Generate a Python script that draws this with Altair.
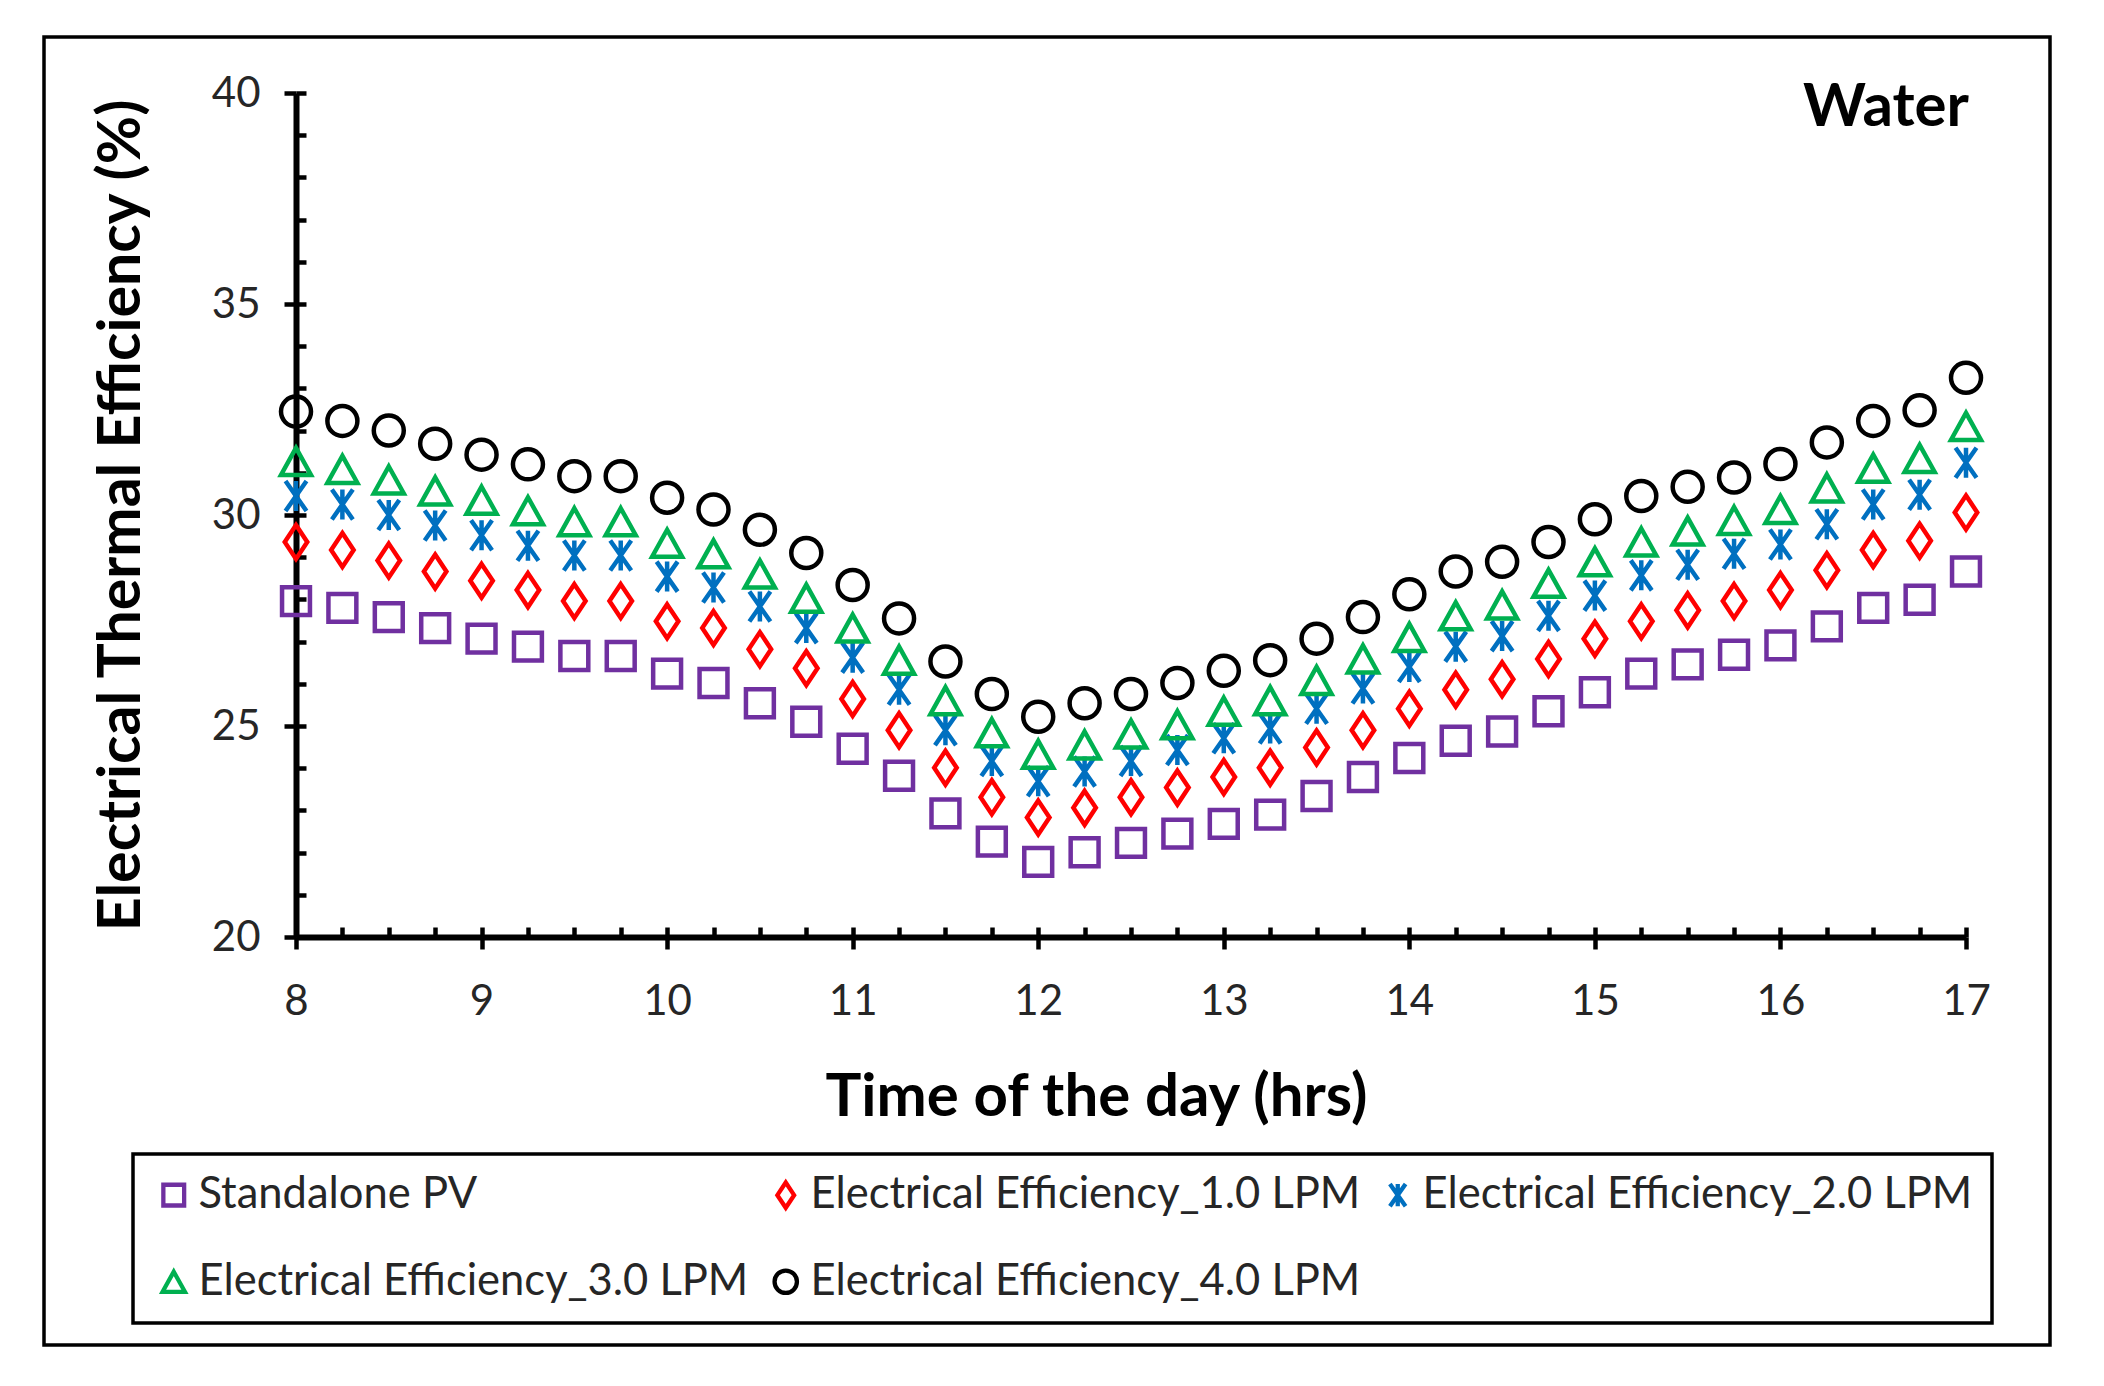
import altair as alt
import pandas as pd

# time of day (hrs)
hours = [8.0, 8.25, 8.5, 8.75, 9.0, 9.25, 9.5, 9.75, 10.0, 10.25, 10.5, 10.75,
         11.0, 11.25, 11.5, 11.75, 12.0, 12.25, 12.5, 12.75, 13.0, 13.25, 13.5, 13.75,
         14.0, 14.25, 14.5, 14.75, 15.0, 15.25, 15.5, 15.75, 16.0, 16.25, 16.5, 16.75, 17.0]

standalone_pv = [27.96, 27.80, 27.58, 27.32, 27.07, 26.88, 26.66, 26.66, 26.24, 26.02, 25.54, 25.10,
                 24.46, 23.82, 22.93, 22.26, 21.78, 22.01, 22.23, 22.45, 22.68, 22.90, 23.34, 23.79,
                 24.24, 24.65, 24.87, 25.35, 25.80, 26.24, 26.46, 26.69, 26.91, 27.36, 27.80, 27.99, 28.66]
eff_1_lpm = [29.36, 29.17, 28.92, 28.66, 28.44, 28.22, 27.96, 27.96, 27.48, 27.32, 26.82, 26.37,
             25.64, 24.90, 24.01, 23.31, 22.83, 23.06, 23.31, 23.54, 23.79, 24.01, 24.49, 24.90,
             25.41, 25.86, 26.11, 26.59, 27.07, 27.48, 27.74, 27.96, 28.22, 28.69, 29.17, 29.39, 30.06]
eff_2_lpm = [30.45, 30.25, 30.00, 29.75, 29.52, 29.27, 29.04, 29.04, 28.54, 28.28, 27.83, 27.32,
             26.62, 25.86, 24.90, 24.17, 23.69, 23.92, 24.17, 24.43, 24.71, 24.94, 25.41, 25.89,
             26.40, 26.88, 27.13, 27.61, 28.09, 28.57, 28.82, 29.08, 29.30, 29.78, 30.25, 30.48, 31.24]
eff_3_lpm = [31.27, 31.08, 30.83, 30.57, 30.35, 30.10, 29.84, 29.84, 29.33, 29.08, 28.60, 28.03,
             27.32, 26.56, 25.60, 24.84, 24.33, 24.55, 24.81, 25.03, 25.35, 25.60, 26.08, 26.59,
             27.10, 27.61, 27.87, 28.38, 28.89, 29.36, 29.62, 29.87, 30.13, 30.64, 31.11, 31.34, 32.10]
eff_4_lpm = [32.45, 32.23, 32.00, 31.69, 31.43, 31.20, 30.92, 30.92, 30.41, 30.13, 29.65, 29.10,
             28.34, 27.55, 26.53, 25.76, 25.22, 25.54, 25.76, 26.02, 26.31, 26.56, 27.07, 27.58,
             28.12, 28.66, 28.89, 29.36, 29.90, 30.45, 30.67, 30.89, 31.21, 31.72, 32.23, 32.48, 33.25]

series_names = [
    "Standalone PV",
    "Electrical Efficiency_1.0 LPM",
    "Electrical Efficiency_2.0 LPM",
    "Electrical Efficiency_3.0 LPM",
    "Electrical Efficiency_4.0 LPM",
]
series_values = [standalone_pv, eff_1_lpm, eff_2_lpm, eff_3_lpm, eff_4_lpm]
series_colors = ["#7030A0", "#FF0000", "#0070C0", "#00B050", "#000000"]
series_shapes = [
    "M-0.93,-0.93L0.93,-0.93L0.93,0.93L-0.93,0.93Z",
    "M0,-1.13L0.75,0L0,1.13L-0.75,0Z",
    "M-0.7,-1L0.7,1M0.7,-1L-0.7,1M0,-1L0,1",
    "M0,-0.9L1,0.9L-1,0.9Z",
    "circle",
]

x_labels = [8, 9, 10, 11, 12, 13, 14, 15, 16, 17]
y_labels = [20, 25, 30, 35, 40]

PLOT_W = 1670
PLOT_H = 844
FONT = "Lato"
TEXT_COLOR = "#262626"

df = pd.concat(
    [pd.DataFrame({"hour": hours, "efficiency": values, "series": name})
     for name, values in zip(series_names, series_values)],
    ignore_index=True,
)

x_scale = alt.Scale(domain=[8, 17], nice=False, zero=False)
y_scale = alt.Scale(domain=[20, 40], nice=False, zero=False)

points = (
    alt.Chart(df)
    .mark_point(filled=False, size=900, strokeWidth=4.5, opacity=1)
    .encode(
        x=alt.X(
            "hour:Q",
            scale=x_scale,
            axis=alt.Axis(
                values=x_labels, format="d", tickSize=12, tickWidth=4.5, tickColor="black",
                domainColor="black", domainWidth=6, grid=False,
                labelFontSize=42, labelColor=TEXT_COLOR, labelPadding=32, labelFlush=False,
                title="Time of the day (hrs)", titleFontSize=60, titleFontWeight="bold",
                titleColor="black", titleX=800, titleY=160, titleBaseline="middle",
            ),
        ),
        y=alt.Y(
            "efficiency:Q",
            scale=y_scale,
            axis=alt.Axis(
                values=y_labels, tickSize=12, tickWidth=4.5, tickColor="black",
                domainColor="black", domainWidth=6, grid=False,
                labelFontSize=42, labelColor=TEXT_COLOR, labelPadding=24, labelFlush=False,
                title="Electrical Thermal Efficiency (%)", titleFontSize=59, titleFontWeight="bold",
                titleColor="black", titleX=-175, titleY=PLOT_H / 2, titleAngle=-90,
                titleAlign="center", titleBaseline="middle",
            ),
        ),
        color=alt.Color(
            "series:N",
            scale=alt.Scale(domain=series_names, range=series_colors),
            legend=alt.Legend(
                orient="none", legendX=-163, legendY=1061, columns=3, direction="horizontal",
                title=None, labelFontSize=43.5, labelColor=TEXT_COLOR, labelLimit=1200,
                labelOffset=3, symbolSize=500, symbolStrokeWidth=4.3, padding=19,
                rowPadding=42, columnPadding=15, strokeColor="black",
            ),
        ),
        shape=alt.Shape(
            "series:N",
            scale=alt.Scale(domain=series_names, range=series_shapes),
        ),
    )
)

# inner (minor) tick marks, drawn by a second pair of axes pointing into the plot
inner_ticks = (
    alt.Chart(df)
    .mark_point(opacity=0)
    .encode(
        x=alt.X(
            "hour:Q",
            scale=x_scale,
            axis=alt.Axis(
                orient="top", offset=-PLOT_H, values=[8 + i / 4 for i in range(37)],
                tickSize=10, tickWidth=4.5, tickColor="black", labels=False,
                domain=False, grid=False, title=None,
            ),
        ),
        y=alt.Y(
            "efficiency:Q",
            scale=y_scale,
            axis=alt.Axis(
                orient="right", offset=-PLOT_W, values=list(range(20, 41)),
                tickSize=10, tickWidth=4.5, tickColor="black", labels=False,
                domain=False, grid=False, title=None,
            ),
        ),
    )
)

frame = (
    alt.Chart(pd.DataFrame({"k": [0]}))
    .mark_rect(fill="transparent", stroke="black", strokeWidth=3.5)
    .encode(x=alt.value(-252), x2=alt.value(1754), y=alt.value(-56), y2=alt.value(1252))
)

water = (
    alt.Chart(pd.DataFrame({"label": ["Water"]}))
    .mark_text(align="right", baseline="middle", font=FONT, fontSize=60, fontWeight="bold", color="black")
    .encode(text="label:N", x=alt.value(PLOT_W + 3), y=alt.value(15))
)

chart = (
    alt.layer(frame, inner_ticks, points, water)
    .resolve_axis(x="independent", y="independent")
    .properties(
        width=PLOT_W,
        height=PLOT_H,
        autosize=alt.AutoSizeParams(type="none"),
        padding={"left": 288, "top": 85, "right": 120, "bottom": 436},
        background="white",
    )
    .configure(font=FONT)
    .configure_view(strokeWidth=0)
    .configure_legend(strokeWidth=3.5, gridAlign="each")
)

chart.save("out.html", embed_options={"renderer": "svg", "actions": False})
